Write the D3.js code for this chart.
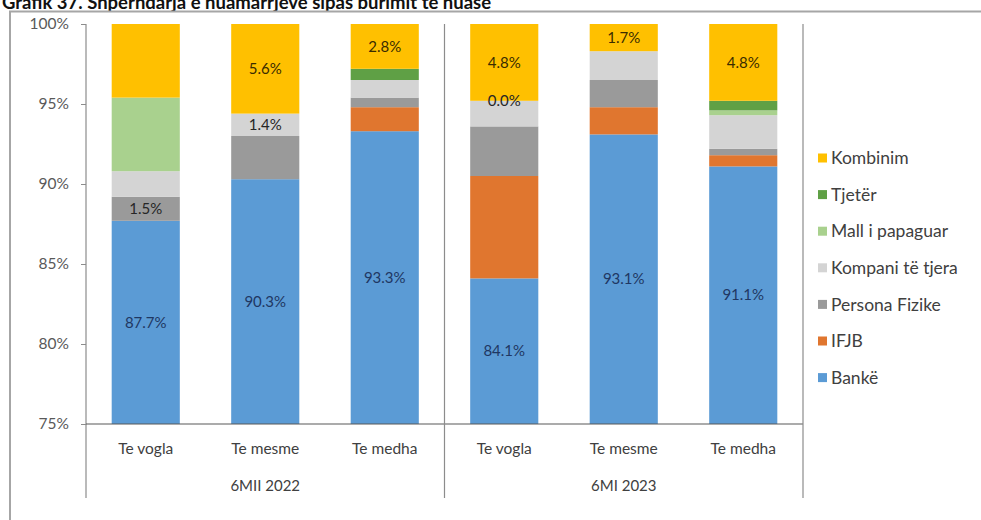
<!DOCTYPE html>
<html>
<head>
<meta charset="utf-8">
<script src="https://cdn.jsdelivr.net/npm/d3@7"></script>
<style>
  html, body { margin: 0; padding: 0; background: #ffffff; }
  svg { display: block; }
  text { font-family: Lato, "Open Sans", sans-serif; }
</style>
</head>
<body>
<svg id="chart" width="981" height="520"></svg>
<script>
// Categories along the x axis and their period groups
const categories = ["Te vogla", "Te mesme", "Te medha", "Te vogla", "Te mesme", "Te medha"];
const periods = ["6MII 2022", "6MI 2023"];
const periodOf = [0, 0, 0, 1, 1, 1];

// Series shares (%), bottom to top of each stacked bar
const banke          = [87.7, 90.3, 93.3, 84.1, 93.1, 91.1];
const ifjb           = [0.0, 0.0, 1.5, 6.4, 1.7, 0.7];
const personaFizike  = [1.5, 2.7, 0.6, 3.1, 1.7, 0.4];
const kompaniTeTjera = [1.6, 1.4, 1.1, 1.6, 1.8, 2.1];
const mallIPapaguar  = [4.6, 0.0, 0.0, 0.0, 0.0, 0.3];
const tjeter         = [0.0, 0.0, 0.7, 0.0, 0.0, 0.6];
const kombinim       = [4.6, 5.6, 2.8, 4.8, 1.7, 4.8];

const seriesNames = ["Bankë", "IFJB", "Persona Fizike", "Kompani të tjera", "Mall i papaguar", "Tjetër", "Kombinim"];
const seriesValues = [banke, ifjb, personaFizike, kompaniTeTjera, mallIPapaguar, tjeter, kombinim];
const seriesColors = ["#5b9bd5", "#e0762f", "#9a9a9a", "#d4d4d4", "#a9d18e", "#5fa045", "#ffc000"];

// Which bars carry a value label, per series
const labelledBars = {
  "Bankë": [0, 1, 2, 3, 4, 5],
  "Persona Fizike": [0],
  "Kompani të tjera": [1],
  "Mall i papaguar": [3],
  "Kombinim": [1, 2, 3, 4, 5]
};

// Y axis ticks
const yTicks = [75, 80, 85, 90, 95, 100];

const title = "Grafik 37. Shpërndarja e huamarrjeve sipas burimit të huasë";

const svg = d3.select("#chart");

// Title and frame around the chart
svg.append("text")
  .attr("x", 2).attr("y", 9)
  .attr("font-family", "Liberation Sans, Arial, sans-serif")
  .attr("font-weight", "bold")
  .attr("font-size", 18.5)
  .attr("fill", "#111")
  .text(title);
svg.append("rect")
  .attr("x", 10).attr("y", 11.5)
  .attr("width", 990).attr("height", 520)
  .attr("fill", "#ffffff")
  .attr("stroke", "#a6a6a6")
  .attr("stroke-width", 2);

const plot = { left: 86, right: 803, top: 24, bottom: 424 };

const x = d3.scaleBand()
  .domain(d3.range(categories.length))
  .range([plot.left, plot.right])
  .paddingInner(0.43)
  .paddingOuter(0.215);

const y = d3.scaleLinear()
  .domain([75, 100])
  .range([plot.bottom, plot.top]);

// Stack the series
const table = categories.map((c, i) => {
  const row = { idx: i };
  seriesNames.forEach((n, k) => { row[n] = seriesValues[k][i]; });
  return row;
});
const stacked = d3.stack().keys(seriesNames)(table);

const g = svg.append("g");

stacked.forEach((layer, k) => {
  g.append("g")
    .attr("fill", seriesColors[k])
    .selectAll("rect")
    .data(layer)
    .join("rect")
    .attr("x", d => x(d.data.idx))
    .attr("width", x.bandwidth())
    .attr("y", d => y(Math.min(100, d[1])))
    .attr("height", d => Math.max(0, y(Math.max(75, d[0])) - y(Math.min(100, d[1]))));
});

// Value labels centred on the visible part of each segment
stacked.forEach((layer, k) => {
  const name = seriesNames[k];
  const bars = labelledBars[name];
  if (!bars) return;
  g.append("g")
    .selectAll("text")
    .data(layer.filter(d => bars.includes(d.data.idx)))
    .join("text")
    .attr("x", d => x(d.data.idx) + x.bandwidth() / 2)
    .attr("y", d => (y(Math.max(75, d[0])) + y(d[1])) / 2)
    .attr("dy", "0.35em")
    .attr("text-anchor", "middle")
    .attr("font-size", 15)
    .attr("fill", name === "Bankë" ? "#1f3763" : (name === "Kombinim" ? "#3a2c00" : "#262626"))
    .text(d => d3.format(".1f")(d.data[name]) + "%");
});

// Y axis
const yAxis = d3.axisLeft(y)
  .tickValues(yTicks)
  .tickSize(5)
  .tickPadding(12)
  .tickFormat(d => d + "%");
const ya = svg.append("g")
  .attr("transform", `translate(${plot.left},0)`)
  .call(yAxis);
ya.select(".domain").remove();
ya.selectAll(".tick line").attr("stroke", "#8c8c8c");
ya.selectAll(".tick text")
  .attr("font-size", 15.5)
  .attr("fill", "#595959")
  .attr("font-family", "Lato, sans-serif");

// Axis lines and group separators
const lineColor = "#8c8c8c";
svg.append("line")
  .attr("x1", plot.left).attr("x2", plot.left)
  .attr("y1", plot.top).attr("y2", 498)
  .attr("stroke", lineColor).attr("stroke-width", 1.2);
svg.append("line")
  .attr("x1", plot.left).attr("x2", plot.right)
  .attr("y1", plot.bottom).attr("y2", plot.bottom)
  .attr("stroke", "#595959").attr("stroke-width", 1.2);

const groupEdges = [plot.left];
periods.forEach((p, pi) => {
  const idxs = d3.range(categories.length).filter(i => periodOf[i] === pi);
  const last = idxs[idxs.length - 1];
  const edge = x(last) + x.bandwidth() + x.step() * x.paddingInner() / 2;
  groupEdges.push(pi === periods.length - 1 ? plot.right : edge);
});
groupEdges.slice(1).forEach(e => {
  svg.append("line")
    .attr("x1", e).attr("x2", e)
    .attr("y1", plot.top).attr("y2", 498)
    .attr("stroke", lineColor).attr("stroke-width", 1.2);
});

// Category labels
svg.append("g")
  .selectAll("text")
  .data(categories)
  .join("text")
  .attr("x", (d, i) => x(i) + x.bandwidth() / 2)
  .attr("y", 449)
  .attr("dy", "0.35em")
  .attr("text-anchor", "middle")
  .attr("font-size", 15.5)
  .attr("fill", "#404040")
  .text(d => d);

// Period labels
svg.append("g")
  .selectAll("text")
  .data(periods)
  .join("text")
  .attr("x", (d, i) => (groupEdges[i] + groupEdges[i + 1]) / 2)
  .attr("y", 486)
  .attr("dy", "0.35em")
  .attr("text-anchor", "middle")
  .attr("font-size", 15)
  .attr("fill", "#404040")
  .text(d => d);

// Legend, top entry is the top of the stack
const legendItems = seriesNames.map((n, k) => ({ name: n, color: seriesColors[k] })).reverse();
const legend = svg.append("g").attr("transform", "translate(818,158)");
legend.selectAll("rect")
  .data(legendItems)
  .join("rect")
  .attr("x", 0)
  .attr("y", (d, i) => i * 36.6 - 4.5)
  .attr("width", 9).attr("height", 9)
  .attr("fill", d => d.color);
legend.selectAll("text")
  .data(legendItems)
  .join("text")
  .attr("x", 13)
  .attr("y", (d, i) => i * 36.6)
  .attr("dy", "0.35em")
  .attr("font-size", 17.5)
  .attr("fill", "#404040")
  .text(d => d.name);
</script>
</body>
</html>
